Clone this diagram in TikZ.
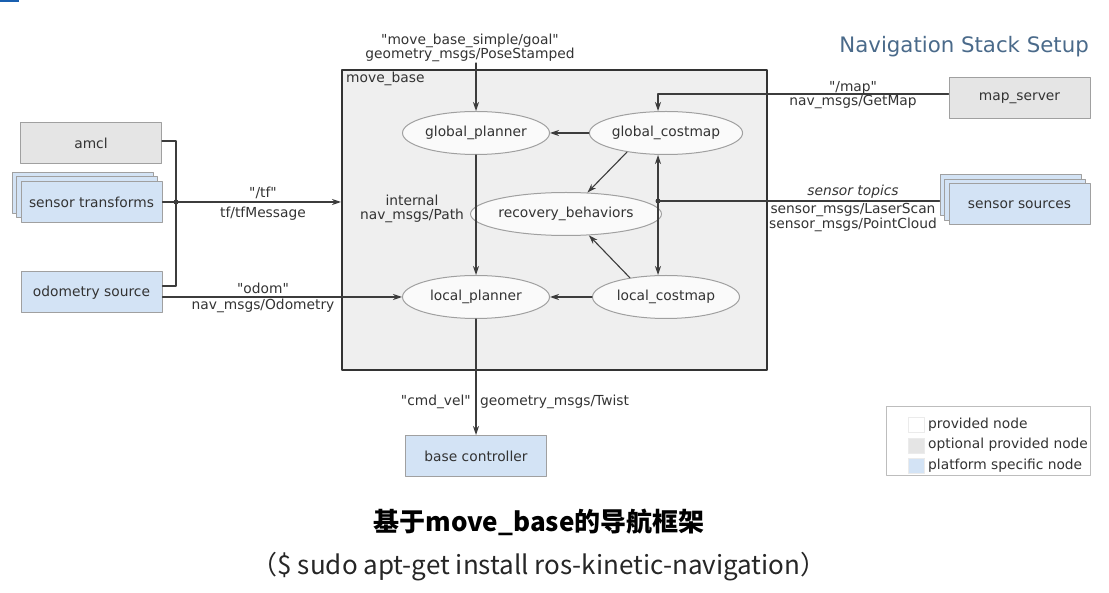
\documentclass[tikz,border=0pt]{standalone}
\usepackage{fontspec}
\setmainfont{DejaVu Sans}
\newfontfamily\cjkfont{Noto Sans CJK SC}
\usetikzlibrary{shapes.geometric,shadows,arrows.meta}
\definecolor{navblue}{RGB}{211,227,245}
\definecolor{optgray}{RGB}{229,229,229}
\definecolor{mbgray}{RGB}{239,239,239}
\definecolor{titleblue}{RGB}{74,106,138}
\definecolor{wiregray}{RGB}{60,60,60}
\definecolor{edgegray}{RGB}{160,160,160}
\definecolor{barblue}{RGB}{25,95,175}
\newcommand\topicq[1]{\textquotedbl#1\textquotedbl}

\begin{document}
\begin{tikzpicture}[x=1pt,y=-1pt,line cap=round,line join=round,
  every node/.style={font=\fontsize{13.8}{14.2}\selectfont,text=black!80,inner sep=0pt},
  nodebox/.style={draw=edgegray,line width=1pt,minimum width=141pt,minimum height=41pt},
  optbox/.style={nodebox,fill=optgray},
  platbox/.style={nodebox,fill=navblue},
  stackbox/.style={platbox,copy shadow={shadow xshift=-9pt,shadow yshift=9pt},
    copy shadow={shadow xshift=-4.5pt,shadow yshift=4.5pt}},
  proc/.style={ellipse,draw=edgegray,line width=1pt,fill=white!98!black,
    minimum width=147pt,minimum height=43pt},
  wire/.style={draw=wiregray,line width=1.1pt},
  arr/.style={wire,-{Stealth[length=9pt,width=6pt]}},
  busdot/.style={circle,fill=wiregray,minimum size=5pt},
  legsq/.style={draw=black!8,line width=0.8pt,minimum width=16pt,minimum height=15pt}]
\useasboundingbox (0,0) rectangle (1109,593);
\fill[barblue] (0,0) rectangle (19,2);
\node[anchor=east,font=\fontsize{21.3}{24}\selectfont,text=titleblue] (title) at (1089,47) {Navigation Stack Setup};

\node[draw=black!80,line width=2pt,fill=mbgray,minimum width=425pt,minimum height=300pt] (mb) at (554.5,220) {};
\node[anchor=north west] (mblbl) at (346,72) {move\_base};

\node[proc] (gp) at (476,133) {global\_planner};
\node[proc] (gc) at (666,133) {global\_costmap};
\node[proc] (rb) at (566,214) {recovery\_behaviors};
\node[proc] (lp) at (476,297) {local\_planner};
\node[proc] (lc) at (666,297) {local\_costmap};

\node[optbox] (amcl) at (91,143.5) {amcl};
\node[stackbox] (st) at (91.5,202) {sensor transforms};
\node[platbox] (od) at (91.5,292.5) {odometry source};
\node[optbox] (ms) at (1019.5,98.5) {map\_server};
\node[stackbox] (ss) at (1019.5,204.5) {sensor sources};
\node[platbox] (bc) at (476,456) {base controller};

\coordinate (tfbus) at (176,202);
\coordinate (sbus) at (658,201);
\coordinate (goal) at (476,63);

\draw[wire] ([yshift=2.5pt]amcl.east) -| (tfbus) |- ([yshift=6.5pt]od.east);
\draw[arr] (st.east) -- (mb.west |- st.east);
\node[busdot] at (tfbus) {};
\draw[arr] (od.east |- lp.west) -- (lp.west);
\draw[arr] (goal) -- (gp.north);
\draw[arr] (gc.west) -- (gp.east);
\draw[arr] (gp.south) -- (lp.north);
\draw[arr] (lc.west) -- (lp.east);
\draw[arr] (gc.206) -- (rb.45);
\draw[arr] (lc.152) -- (rb.317);
\draw[wire,{Stealth[length=9pt,width=6pt]}-{Stealth[length=9pt,width=6pt]}] (gc.south -| sbus) -- (lc.north -| sbus);
\draw[wire] (sbus) -- ([xshift=-9pt]ss.west |- sbus);
\node[busdot] at (sbus) {};
\draw[arr] ([yshift=4.5pt]ms.west) -| (gc.north -| sbus);
\draw[arr] (lp.south) -- (bc.north);

\node (tflbl) at (263,193) {\topicq{/tf}};
\node (tfmsg) at (263,214) {tf/tfMessage};
\node (odomlbl) at (263,288) {\topicq{odom}};
\node (odommsg) at (263,306) {nav\_msgs/Odometry};
\node[align=center] (goallbl) at (470,47.5) {\topicq{move\_base\_simple/goal}\\geometry\_msgs/PoseStamped};
\node[align=center] (pathlbl) at (412,209) {internal\\nav\_msgs/Path};
\node[align=center] (maplbl) at (853,95) {\topicq{/map}\\nav\_msgs/GetMap};
\node (senslbl) at (853,192) {\itshape sensor topics};
\node[align=center] (sensmsg) at (853,217.5) {sensor\_msgs/LaserScan\\sensor\_msgs/PointCloud};
\node[anchor=east] (cmdlbl) at (471,402) {\topicq{cmd\_vel}};
\node[anchor=west] (twistlbl) at (480,402) {geometry\_msgs/Twist};

\node[draw=edgegray!70,line width=1pt,fill=white,minimum width=204pt,minimum height=69pt] (legend) at (988,441.5) {};
\foreach \sqc/\txt [count=\i] in {white/provided node,optgray/optional provided node,navblue/platform specific node}{
  \node[legsq,fill=\sqc] (legsq\i) at (916.5,404.5+20.5*\i) {};
  \node[anchor=west] (legtxt\i) at (928,404+20.5*\i) {\txt};
}

\node[font=\cjkfont\bfseries\fontsize{26}{30}\selectfont,text=black] (caption) at (539,522) {基于move\_base的导航框架};
\node[font=\cjkfont\fontsize{26}{30}\selectfont,text=black!85] (cmdline) at (539,567) {（\$ sudo apt-get install ros-kinetic-navigation）};
\end{tikzpicture}
\end{document}
